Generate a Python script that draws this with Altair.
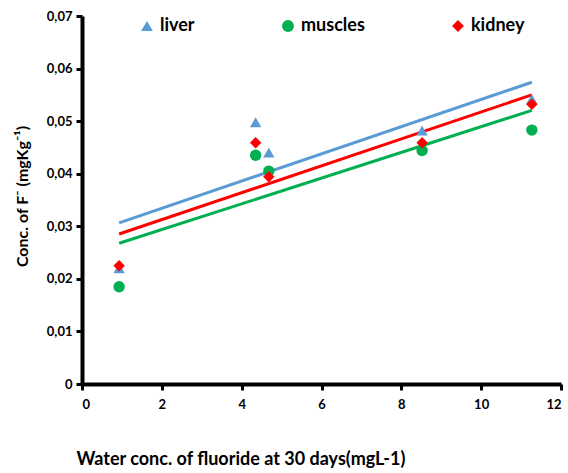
import altair as alt
import pandas as pd

series = ["liver", "muscles", "kidney"]
x_vals = [0.93, 4.35, 4.68, 8.52, 11.27]
liver = [0.0220, 0.0498, 0.0440, 0.0482, 0.0542]
muscles = [0.0185, 0.0435, 0.0405, 0.0444, 0.0483]
kidney = [0.0225, 0.0459, 0.0394, 0.0459, 0.0532]

colors = ["#5B9BD5", "#00B050", "#FF0000"]
shapes = ["triangle-up", "circle", "diamond"]

rows = []
for name, vals in zip(series, [liver, muscles, kidney]):
    for x, y in zip(x_vals, vals):
        rows.append({"x": x, "y": y, "series": name})
df = pd.DataFrame(rows)

FONT = "Lato"

xscale = alt.Scale(domain=[0, 12], nice=False, zero=False)
yscale = alt.Scale(domain=[0, 0.07], nice=False)

base = alt.Chart(df)

lines = base.transform_regression(
    "x", "y", groupby=["series"]
).mark_line().encode(
    x=alt.X("x:Q", scale=xscale),
    y=alt.Y("y:Q", scale=yscale),
    stroke=alt.Stroke("series:N", scale=alt.Scale(domain=series, range=colors), legend=None),
    strokeWidth=alt.StrokeWidth("series:N", scale=alt.Scale(domain=series, range=[3, 3, 2]), legend=None),
)

legend_spec = dict(
    title=None, orient="none", legendX=56, legendY=1, direction="horizontal",
    columnPadding=84, symbolSize=140, labelFontSize=18, labelFont=FONT,
    labelFontWeight="bold", labelColor="#000000", symbolOpacity=1, labelOffset=4,
)

points = base.mark_point(filled=True, opacity=1, size=130).encode(
    x=alt.X("x:Q", scale=xscale, axis=alt.Axis(
        values=[0, 2, 4, 6, 8, 10, 12], labelPadding=8,
        title="Water conc. of fluoride at 30 days(mgL-1)",
        titleAnchor="start", titleAlign="left", titleX=-6, titleY=66,
        titleFontSize=18,
    )),
    y=alt.Y("y:Q", scale=yscale, axis=alt.Axis(
        values=[0, 0.01, 0.02, 0.03, 0.04, 0.05, 0.06, 0.07],
        labelExpr="datum.value == 0 ? '0' : replace(format(datum.value, '.2f'), '.', ',')",
        title="Conc. of F\u207b  (mgKg\u207b\u00b9)",
        titleX=-52, titleY=180, titleAlign="center", titleFontSize=16,
    )),
    color=alt.Color("series:N", scale=alt.Scale(domain=series, range=colors),
                    legend=alt.Legend(**legend_spec)),
    shape=alt.Shape("series:N", scale=alt.Scale(domain=series, range=shapes),
                    legend=alt.Legend(**legend_spec)),
)

chart = alt.layer(lines, points).resolve_legend(
    color="independent", shape="independent", stroke="independent", strokeWidth="independent"
).properties(
    width=479, height=368,
    padding={"left": 82, "top": 16, "right": 7, "bottom": 89},
    autosize=alt.AutoSizeParams(type="none"),
    background="#ffffff",
).configure_view(stroke=None).configure_axis(
    grid=False,
    domainColor="#000000", domainWidth=4,
    tickColor="#000000", tickWidth=3, tickSize=6,
    labelFont=FONT, labelFontWeight="bold", labelFontSize=13, labelColor="#000000",
    titleFont=FONT, titleFontWeight="bold", titleColor="#000000",
    labelPadding=4,
)

chart.save("out.html", embed_options={"renderer": "svg", "actions": False})
